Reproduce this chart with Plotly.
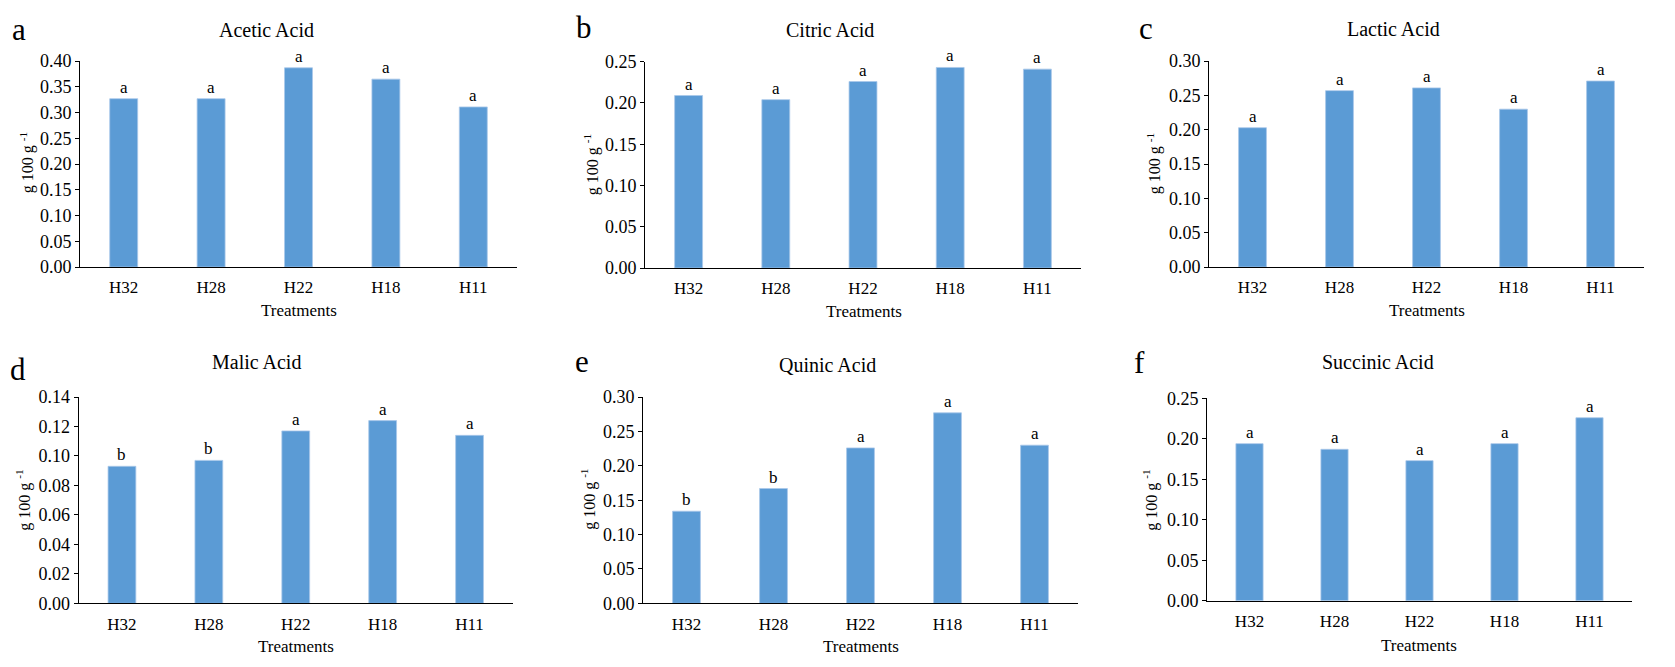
import plotly.graph_objects as go

# ---------------- data ----------------
treatments = ["H32", "H28", "H22", "H18", "H11"]

acetic = [0.327, 0.327, 0.387, 0.365, 0.311]
citric = [0.209, 0.204, 0.226, 0.243, 0.241]
lactic = [0.203, 0.257, 0.261, 0.230, 0.271]
malic = [0.093, 0.097, 0.117, 0.124, 0.114]
quinic = [0.134, 0.167, 0.226, 0.277, 0.230]
succinic = [0.194, 0.187, 0.173, 0.194, 0.226]

acetic_sig = ["a", "a", "a", "a", "a"]
citric_sig = ["a", "a", "a", "a", "a"]
lactic_sig = ["a", "a", "a", "a", "a"]
malic_sig = ["b", "b", "a", "a", "a"]
quinic_sig = ["b", "b", "a", "a", "a"]
succinic_sig = ["a", "a", "a", "a", "a"]

titles = ["Acetic Acid", "Citric Acid", "Lactic Acid", "Malic Acid", "Quinic Acid", "Succinic Acid"]
panel_letters = ["a", "b", "c", "d", "e", "f"]
y_max = [0.40, 0.25, 0.30, 0.14, 0.30, 0.25]
y_step = [0.05, 0.05, 0.05, 0.02, 0.05, 0.05]
x_title = "Treatments"
y_title = "g 100 g <sup>-1</sup>"

series = [acetic, citric, lactic, malic, quinic, succinic]
sigs = [acetic_sig, citric_sig, lactic_sig, malic_sig, quinic_sig, succinic_sig]

# ---------------- layout (pixels) ----------------
W, H = 1675, 667
FONT = "Liberation Serif"
BAR_COLOR = "#5B9BD5"

# plot boxes: x0, x1, ytop, ybottom
boxes = [
    (80, 517, 52.7, 265),
    (645, 1081, 53.3, 266),
    (1209, 1644, 52.7, 265),
    (78.5, 513, 399, 611.7),
    (643, 1078, 399, 611.7),
    (1207, 1632, 400.3, 609),
]
title_pos = [(266, 21), (830, 21), (1393, 20), (256, 363), (827, 366), (1378, 363)]
letter_pos = [(19, 20), (584, 18), (1146, 19), (18, 371), (582, 362), (1139, 363)]
ylab_pos = [(27, 158), (591, 160), (1154, 159), (24, 506), (589, 505), (1151, 506)]
xlab_pos = [(299, 310), (864, 311), (1427, 310), (296, 656), (861, 656), (1419, 655)]


def fx(x):
    return x / W


def fy(y):
    return 1 - y / H


fig = go.Figure()
annotations = []
layout_axes = {}

for i in range(6):
    n = i + 1
    xa = "x" if n == 1 else f"x{n}"
    ya = "y" if n == 1 else f"y{n}"
    xkey = "xaxis" if n == 1 else f"xaxis{n}"
    ykey = "yaxis" if n == 1 else f"yaxis{n}"
    x0, x1, yt, yb = boxes[i]

    fig.add_trace(go.Bar(
        x=treatments, y=series[i], xaxis=xa, yaxis=ya,
        width=0.32, marker=dict(color=BAR_COLOR, line=dict(color="#A9C8EA", width=0.8)),
        showlegend=False, hoverinfo="x+y",
    ))

    layout_axes[xkey] = dict(
        domain=[fx(x0), fx(x1)], anchor=ya, type="category",
        range=[-0.5, 4.5], showline=True, linecolor="black", linewidth=1,
        showgrid=False, zeroline=False, ticks="outside", ticklen=5,
        tickcolor="rgba(0,0,0,0)",
        tickfont=dict(family=FONT, size=17, color="black"),
        fixedrange=True,
    )
    layout_axes[ykey] = dict(
        domain=[fy(yb), fy(yt)], anchor=xa,
        range=[0, y_max[i]], tick0=0, dtick=y_step[i], tickformat=".2f",
        showline=True, linecolor="black", linewidth=1,
        showgrid=False, zeroline=False, ticks="outside", ticklen=4,
        tickcolor="black", tickfont=dict(family=FONT, size=18, color="black"),
        fixedrange=True,
    )

    # significance letters
    for cat, val, s in zip(treatments, series[i], sigs[i]):
        annotations.append(dict(
            x=cat, y=val, xref=xa, yref=ya, text=s, showarrow=False,
            yanchor="bottom", xanchor="center",
            font=dict(family=FONT, size=17, color="black"),
        ))

    # title
    tx, ty = title_pos[i]
    annotations.append(dict(
        x=fx(tx), y=fy(ty), xref="paper", yref="paper", text=titles[i],
        showarrow=False, xanchor="center", yanchor="middle",
        font=dict(family=FONT, size=20, color="black"),
    ))
    # panel letter
    lx, ly = letter_pos[i]
    annotations.append(dict(
        x=fx(lx), y=fy(ly), xref="paper", yref="paper", text=panel_letters[i],
        showarrow=False, xanchor="center", yanchor="middle",
        font=dict(family=FONT, size=31, color="black"),
    ))
    # y label
    yx, yy = ylab_pos[i]
    annotations.append(dict(
        x=fx(yx), y=fy(yy), xref="paper", yref="paper", text=y_title,
        showarrow=False, xanchor="center", yanchor="middle", textangle=-90,
        font=dict(family=FONT, size=16, color="black"),
    ))
    # x label
    xx, xy = xlab_pos[i]
    annotations.append(dict(
        x=fx(xx), y=fy(xy), xref="paper", yref="paper", text=x_title,
        showarrow=False, xanchor="center", yanchor="middle",
        font=dict(family=FONT, size=17, color="black"),
    ))

fig.update_layout(
    width=W, height=H,
    margin=dict(l=0, r=0, t=0, b=0),
    paper_bgcolor="white", plot_bgcolor="white",
    annotations=annotations,
    showlegend=False,
    **layout_axes,
)

fig.write_html("out.html")
